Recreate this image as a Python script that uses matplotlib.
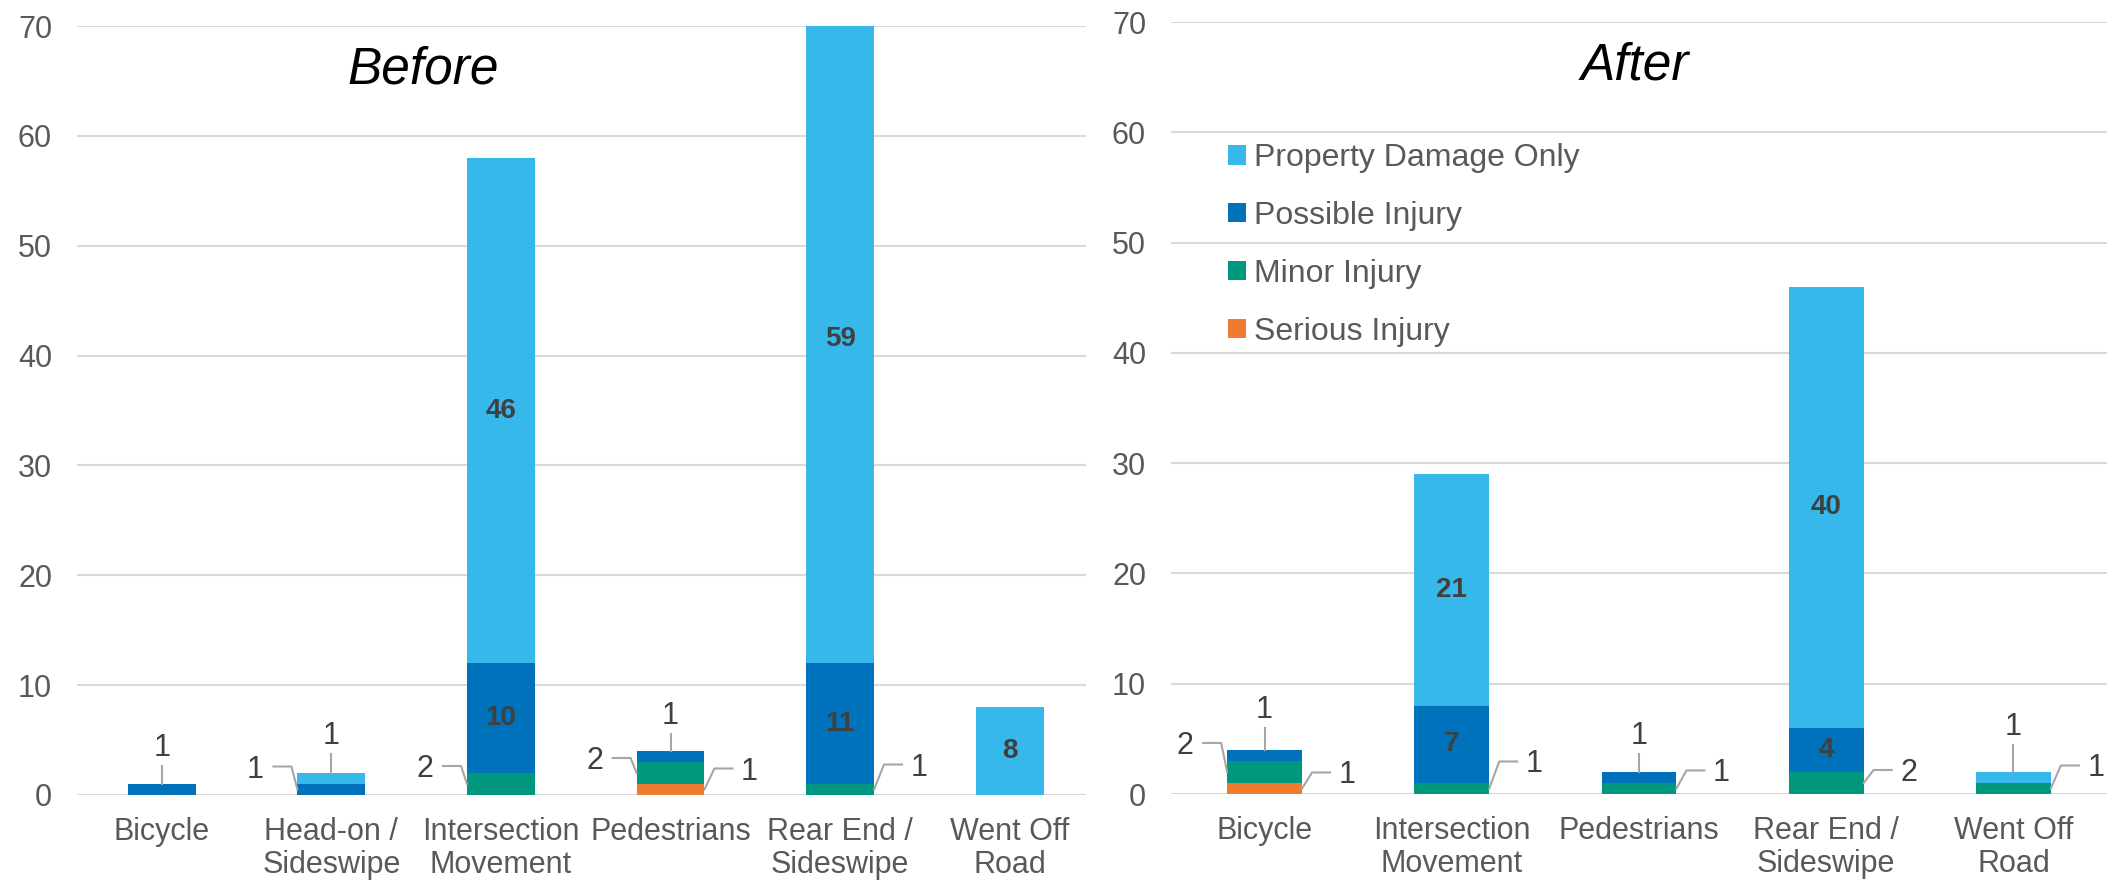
import numpy as np
import matplotlib.pyplot as plt
import matplotlib.transforms as mtransforms

plt.rcParams['font.family'] = ['Liberation Sans', 'DejaVu Sans']

# stacking order bottom -> top
SERIES = ['Serious Injury', 'Minor Injury', 'Possible Injury', 'Property Damage Only']
COLORS = ['#ee7b30', '#00977f', '#0071bb', '#37b8ea']

before_cats = ['Bicycle', 'Head-on /\nSideswipe', 'Intersection\nMovement',
               'Pedestrians', 'Rear End /\nSideswipe', 'Went Off\nRoad']
before_serious = [0, 0, 0, 1, 0, 0]
before_minor = [0, 0, 2, 2, 1, 0]
before_possible = [1, 1, 10, 1, 11, 0]
before_pdo = [0, 1, 46, 0, 59, 8]

after_cats = ['Bicycle', 'Intersection\nMovement', 'Pedestrians',
              'Rear End /\nSideswipe', 'Went Off\nRoad']
after_serious = [1, 0, 0, 0, 0]
after_minor = [2, 1, 1, 2, 1]
after_possible = [1, 7, 1, 4, 0]
after_pdo = [0, 21, 0, 40, 1]

# where the small-segment labels sit: (category, series) -> (side, rise in px)
before_callouts = {(0, 2): ('top', 36), (1, 2): ('left', 20), (1, 3): ('top', 37),
                   (2, 1): ('left', 15), (3, 2): ('top', 35), (3, 1): ('left', 12),
                   (3, 0): ('right', 18), (4, 1): ('right', 22)}
after_callouts = {(0, 2): ('top', 40), (0, 1): ('left', 26), (0, 0): ('right', 13),
                  (1, 1): ('right', 24), (2, 2): ('top', 36), (2, 1): ('right', 15),
                  (3, 1): ('right', 10), (4, 3): ('top', 45), (4, 1): ('right', 20)}

BAR_W = 0.40
GRID = '#d9d9d9'
TICK = '#595959'
LABEL = '#404040'
LEADER = '#a6a6a6'
PX = 0.72  # points per pixel at 100 dpi

fig = plt.figure(figsize=(21.07, 8.83), dpi=100)
W, H = 2107, 883
ax1 = fig.add_axes([77 / W, 1 - 795 / H, (1086 - 77) / W, (795 - 26) / H])
ax2 = fig.add_axes([1171 / W, 1 - 794 / H, (2107 - 1171) / W, (794 - 22) / H])


def callout(ax, xa, ya, text, side, dy):
    if side == 'top':
        line = [(0, 0), (0, dy - 18)]
        tx = 0
    elif side == 'right':
        line = [(0, 0), (10, dy + 3), (28, dy + 3)]
        tx = 45
    else:
        line = [(0, 0), (-6, dy + 3), (-24, dy + 3)]
        tx = -42
    trans = (mtransforms.Affine2D().scale(PX / 72) + fig.dpi_scale_trans
             + mtransforms.ScaledTranslation(xa, ya, ax.transData))
    xs, ys = zip(*line)
    ax.plot(xs, ys, color=LEADER, lw=1.5, transform=trans, clip_on=False,
            scalex=False, scaley=False, zorder=3)
    ax.annotate(text, xy=(xa, ya), xytext=(tx * PX, dy * PX),
                textcoords='offset points', ha='center', va='center',
                fontsize=22, color=LABEL, annotation_clip=False)


def draw_panel(ax, cats, stacks, spots, title, title_x, xmax):
    x = np.arange(len(cats))
    bottom = np.zeros(len(cats))
    bars = []
    for i, vals in enumerate(stacks):
        vals = np.asarray(vals, dtype=float)
        bars.append(ax.bar(x, vals, BAR_W, bottom=bottom, color=COLORS[i],
                           label=SERIES[i], zorder=2))
        for j, v in enumerate(vals):
            if v == 0:
                continue
            if v >= 4:
                ax.text(x[j], bottom[j] + v / 2, '%g' % v, ha='center', va='center',
                        fontsize=20, fontweight='bold', color=LABEL, zorder=4)
            else:
                side, dy = spots[(j, i)]
                if side == 'top':
                    callout(ax, x[j], bottom[j] + v, '%g' % v, side, dy)
                elif side == 'right':
                    callout(ax, x[j] + BAR_W / 2, bottom[j] + v / 2, '%g' % v, side, dy)
                else:
                    callout(ax, x[j] - BAR_W / 2, bottom[j] + v / 2, '%g' % v, side, dy)
        bottom += vals

    ax.set_xlim(-0.5, xmax)
    ax.set_ylim(0, 70)
    ax.set_yticks(range(0, 71, 10))
    ax.set_xticks(x, cats)
    for s in ax.spines.values():
        s.set_visible(False)
    ax.set_axisbelow(True)
    ax.grid(axis='y', color=GRID, lw=1.5)
    ax.tick_params(axis='both', length=0, labelsize=22, labelcolor=TICK)
    ax.tick_params(axis='y', pad=18)
    ax.tick_params(axis='x', pad=16)
    for t in ax.get_xticklabels():
        t.set_linespacing(1.12)
    ax.text(title_x, 66, title, transform=ax.get_yaxis_transform(), ha='center',
            va='center', fontsize=37, fontstyle='italic', color='black')
    return bars


draw_panel(ax1, before_cats,
           [before_serious, before_minor, before_possible, before_pdo],
           before_callouts, 'Before', 0.343, 5.45)
bars = draw_panel(ax2, after_cats,
                  [after_serious, after_minor, after_possible, after_pdo],
                  after_callouts, 'After', 0.495, 4.5)

ax2.legend(bars[::-1], SERIES[::-1], loc='upper left', bbox_to_anchor=(0.061, 0.843),
           frameon=False, fontsize=23, labelcolor=TICK, handlelength=0.56,
           handleheight=0.56, handletextpad=0.25, labelspacing=0.87,
           borderaxespad=0, borderpad=0)

fig.savefig('out.png', dpi=100)
